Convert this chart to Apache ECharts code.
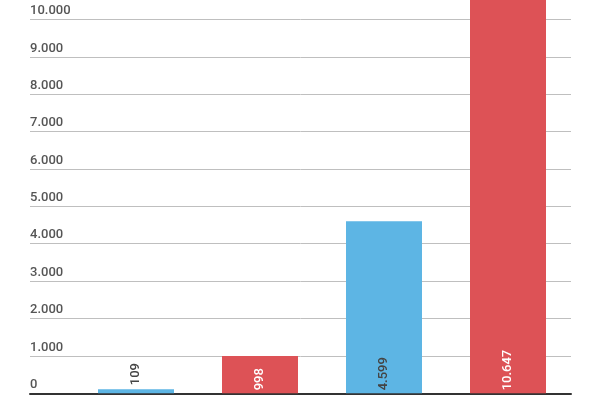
<!DOCTYPE html>
<html><head><meta charset="utf-8">
<script src="https://cdn.jsdelivr.net/npm/echarts@6/dist/echarts.min.js"></script>
<style>html,body{margin:0;padding:0;background:#fff;overflow:hidden}#c{position:absolute;left:0;top:-18px;width:600px;height:418px}</style>
</head><body><div id="c"></div>
<script>
const categories = ['A', 'B', 'C', 'D'];
const values = [109, 998, 4599, 10647];
const barColors = ['#5db5e4', '#dd5256', '#5db5e4', '#dd5256'];
const labelColors = ['#444', '#fff', '#444', '#fff'];
const labelPositions = ['top', 'insideBottom', 'insideBottom', 'insideBottom'];
const yTicks = [0, 1000, 2000, 3000, 4000, 5000, 6000, 7000, 8000, 9000, 10000];

const fmt = v => String(v).replace(/\B(?=(\d{3})+(?!\d))/g, '.');
const FONT = 'Roboto';
const chart = echarts.init(document.getElementById('c'));
const yCommon = { type: 'value', min: 0, max: 11000, interval: 1000 };
chart.setOption({
  animation: false,
  grid: [
    { left: 30, right: 29, top: 0, bottom: 6.7 },
    { left: 74, right: 30, top: 0, bottom: 6.7 }
  ],
  xAxis: [
    { type: 'category', gridIndex: 0, data: [''], axisLine: { show: true, lineStyle: { color: '#333', width: 2 } },
      axisTick: { show: false }, axisLabel: { show: false } },
    { type: 'category', gridIndex: 1, data: categories, axisLine: { show: false },
      axisTick: { show: false }, axisLabel: { show: false } }
  ],
  yAxis: [
    Object.assign({}, yCommon, { gridIndex: 0,
      axisLine: { show: false }, axisTick: { show: false },
      splitLine: { show: true, lineStyle: { color: '#bfbfbf', width: 1 } },
      axisLabel: { inside: true, margin: 0, align: 'left', verticalAlign: 'bottom',
        padding: [0, 0, 2, 0], color: '#555', fontSize: 13, fontWeight: 500, fontFamily: FONT,
        formatter: v => (yTicks.includes(v) ? fmt(v) : '') } }),
    Object.assign({}, yCommon, { gridIndex: 1, show: false, splitLine: { show: false } })
  ],
  series: [{
    type: 'bar', xAxisIndex: 1, yAxisIndex: 1, barWidth: 76,
    data: values.map((v, i) => ({
      value: v,
      itemStyle: { color: barColors[i] },
      label: { show: true, position: labelPositions[i], rotate: 90, align: 'left', verticalAlign: 'middle',
        distance: labelPositions[i] === 'top' ? 4 : 3,
        color: labelColors[i], fontSize: 13, fontWeight: 500, fontFamily: FONT, formatter: fmt(v) }
    }))
  }]
});
</script></body></html>
